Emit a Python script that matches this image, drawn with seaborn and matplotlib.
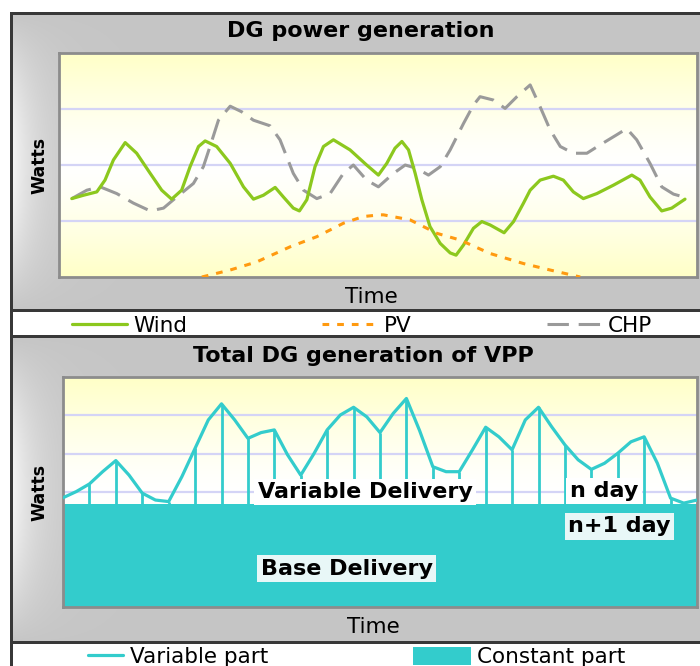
import numpy as np
import matplotlib
matplotlib.use("Agg")
import matplotlib.pyplot as plt
import seaborn as sns

sns.set_style("white")
plt.rcParams['font.family'] = ['DejaVu Sans']
plt.rcParams['text.color'] = 'black'
plt.rcParams['axes.labelcolor'] = 'black'

# ---- DG power generation (time in hours, power in chart units) ----
wind_t = [0, 0.46, 0.98, 1.30, 1.63, 2.09, 2.54, 3.07, 3.52, 3.91, 4.30, 4.63, 4.96, 5.22,
          5.67, 6.20, 6.72, 7.11, 7.50, 7.96, 8.28, 8.67, 8.91, 9.20, 9.52, 9.85, 10.24,
          10.89, 11.54, 12.0, 12.33, 12.65, 12.92, 13.18, 13.44, 13.70, 14.02, 14.42, 14.81,
          15.04, 15.33, 15.72, 16.05, 16.37, 16.92, 17.29, 17.68, 17.94, 18.33, 18.85, 19.24,
          19.63, 20.02, 20.55, 21.20, 21.92, 22.24, 22.63, 23.09, 23.48, 24.0]
wind_w = [1.40, 1.46, 1.52, 1.73, 2.09, 2.40, 2.21, 1.85, 1.55, 1.39, 1.55, 1.97, 2.33, 2.43,
          2.33, 2.03, 1.61, 1.39, 1.46, 1.60, 1.43, 1.23, 1.18, 1.38, 1.97, 2.33, 2.45,
          2.27, 2.00, 1.82, 2.03, 2.30, 2.42, 2.27, 1.85, 1.38, 0.90, 0.60, 0.43,
          0.39, 0.57, 0.87, 0.99, 0.93, 0.79, 0.99, 1.32, 1.55, 1.73, 1.80, 1.73,
          1.52, 1.40, 1.49, 1.64, 1.82, 1.73, 1.43, 1.18, 1.23, 1.39]

pv_t = [5.09, 6.20, 7.24, 8.55, 9.59, 10.63, 11.41, 12.07, 12.20, 13.24, 14.29, 15.20,
        16.37, 17.68, 18.72, 19.90]
pv_w = [0.0, 0.125, 0.27, 0.54, 0.72, 0.96, 1.08, 1.11, 1.11, 1.02, 0.78, 0.66,
        0.42, 0.24, 0.125, 0.0]

chp_t = [0, 0.59, 1.11, 1.76, 2.41, 3.07, 3.59, 3.98, 4.76, 5.15, 5.41, 5.74, 6.20, 6.65,
         7.11, 7.76, 8.15, 8.67, 9.07, 9.59, 10.11, 10.63, 11.02, 11.54, 12.0, 12.59, 13.05,
         13.50, 13.96, 14.42, 14.81, 15.33, 15.72, 15.98, 16.50, 16.96, 17.42, 17.94, 18.33,
         18.72, 19.12, 19.63, 20.16, 20.68, 21.33, 21.72, 22.11, 22.63, 23.09, 23.55, 23.94]
chp_w = [1.40, 1.55, 1.61, 1.49, 1.32, 1.18, 1.23, 1.38, 1.67, 1.97, 2.33, 2.80, 3.05, 2.95,
         2.80, 2.70, 2.45, 1.85, 1.55, 1.40, 1.49, 1.85, 2.00, 1.73, 1.61, 1.85, 2.00,
         1.94, 1.82, 1.97, 2.27, 2.74, 3.07, 3.22, 3.16, 3.01, 3.22, 3.43, 3.04,
         2.63, 2.33, 2.21, 2.21, 2.36, 2.54, 2.65, 2.45, 2.03, 1.61, 1.48, 1.43]

# ---- Total DG generation of VPP (half-hourly) ----
vpp_t = np.arange(0, 24.5, 0.5)
variable = [2.85, 3.01, 3.21, 3.53, 3.82, 3.44, 2.97, 2.79, 2.75, 3.40, 4.14, 4.88, 5.30,
            4.88, 4.40, 4.55, 4.62, 3.97, 3.44, 4.00, 4.62, 5.01, 5.21, 4.96, 4.55, 5.05,
            5.44, 4.60, 3.66, 3.53, 3.53, 4.10, 4.69, 4.44, 4.10, 4.88, 5.21, 4.70, 4.23,
            3.84, 3.59, 3.75, 4.01, 4.31, 4.44, 3.75, 2.84, 2.71, 2.79]
base_level = 2.69

GREEN, ORANGE, GREY, TEAL = '#8cc81e', '#ff9a10', '#9a9a9a', '#33cccc'

fig = plt.figure(figsize=(7, 6.66), dpi=100)

# grey panels, white legend strips and dark frame
H, W = 666, 700
bg = np.ones((H, W, 3))
yy, xx = np.mgrid[0:H, 0:W]
for y0, y1 in [(14, 310), (338, 642)]:
    fy = np.sin(np.pi * np.clip((yy - y0) / (y1 - y0), 0, 1))
    fx = np.exp(-np.clip(xx - 12, 0, None) / 28.0)
    g = 0.775 + (0.96 - 0.775) * fx * fy
    m = (yy >= y0) & (yy < y1) & (xx >= 12)
    bg[m] = g[m][:, None]
for r0, r1 in [(12, 15), (309, 312), (335, 338), (641, 644)]:
    bg[r0:r1, 10:] = 0.22
bg[12:, 10:13] = 0.22
bax = fig.add_axes([0, 0, 1, 1], zorder=-1)
bax.imshow(bg, aspect='auto', interpolation='nearest')
bax.axis('off')


def yellow_bg(ax, xlim, ylim):
    w = np.abs(np.linspace(-1, 1, 256)) ** 1.3
    img = np.ones((256, 1, 3))
    img[:, 0, 2] = 1 - 0.22 * w
    ax.imshow(img, extent=[*xlim, *ylim], aspect='auto', zorder=0)
    ax.set_xlim(*xlim)
    ax.set_ylim(*ylim)


def style_axes(ax, grid_at):
    ax.set_yticks(grid_at)
    ax.set_xticks([])
    ax.grid(axis='y', color='#d4d4f6', lw=1.6)
    ax.set_axisbelow(True)
    ax.tick_params(left=False, bottom=False, labelleft=False, labelbottom=False)
    for s in ax.spines.values():
        s.set_color('#8c8c8c')
        s.set_linewidth(2)


# ---- top chart ----
ax1 = fig.add_axes([59 / 700, 1 - 277 / 666, 638 / 700, 224 / 666])
yellow_bg(ax1, (-0.5, 24.47), (0, 4))
sns.lineplot(x=wind_t, y=wind_w, ax=ax1, color=GREEN, lw=2.3, label='Wind', zorder=3)
sns.lineplot(x=pv_t, y=pv_w, ax=ax1, color=ORANGE, lw=2.2, linestyle=(0, (2.2, 2.6)),
             label='PV', zorder=3)
sns.lineplot(x=chp_t, y=chp_w, ax=ax1, color=GREY, lw=2.2, linestyle=(0, (7, 3.2)),
             label='CHP', zorder=2)
h1, l1 = ax1.get_legend_handles_labels()
if ax1.get_legend():
    ax1.get_legend().remove()
ax1.set_xlim(-0.5, 24.47)
ax1.set_ylim(0, 4)
style_axes(ax1, [1, 2, 3])
ax1.set_title('DG power generation', fontsize=16, fontweight='bold', x=0.473, pad=11.5)
ax1.set_xlabel('Time', fontsize=15.5)
ax1.xaxis.set_label_coords(0.489, -0.043)
ax1.set_ylabel('Watts', fontsize=12.5, fontweight='bold')
ax1.yaxis.set_label_coords(-0.0165, 0.5)

# ---- bottom chart ----
ax2 = fig.add_axes([63 / 700, 1 - 607 / 666, 634 / 700, 230 / 666])
yellow_bg(ax2, (0, 24), (0, 6))
ax2.fill_between(vpp_t, 0, base_level, color=TEAL, lw=0, zorder=2, label='Constant part')
hours = vpp_t[2:-1:2]
ax2.vlines(hours, base_level, variable[2:-1:2], color=TEAL, lw=2, zorder=2)
sns.lineplot(x=vpp_t, y=variable, ax=ax2, color=TEAL, lw=2.3, label='Variable part', zorder=3)
h2, l2 = ax2.get_legend_handles_labels()
if ax2.get_legend():
    ax2.get_legend().remove()
ax2.set_xlim(0, 24)
ax2.set_ylim(0, 6)
style_axes(ax2, [1, 2, 3, 4, 5])
ax2.set_title('Total DG generation of VPP', fontsize=16, fontweight='bold', x=0.473, pad=10.8)
ax2.set_xlabel('Time', fontsize=15.5)
ax2.xaxis.set_label_coords(0.49, -0.043)
ax2.set_ylabel('Watts', fontsize=12.5, fontweight='bold')
ax2.yaxis.set_label_coords(-0.023, 0.5)

white_box = dict(boxstyle='square,pad=0.15', fc='white', ec='none')
tint_box = dict(boxstyle='square,pad=0.15', fc='#e8f7f7', ec='none')
lbl = dict(ha='center', va='center', fontsize=16, fontweight='bold', zorder=5)
ax2.text(11.43, 3.0, 'Variable Delivery', bbox=white_box, **lbl)
ax2.text(20.48, 3.03, 'n day', bbox=white_box, **lbl)
ax2.text(21.07, 2.1, 'n+1 day', bbox=tint_box, **lbl)
ax2.text(10.74, 1.0, 'Base Delivery', bbox=tint_box, **lbl)

# ---- legends in the white strips ----
fig.legend(h1, l1, ncol=3, mode='expand', loc='center',
           bbox_to_anchor=(72 / 700, 1 - 326 / 666 - 0.01, 580 / 700, 0.02),
           frameon=False, fontsize=15.5, handlelength=2.56, handletextpad=0.28,
           borderpad=0, borderaxespad=0)
var_h = h2[l2.index('Variable part')]
const_h = h2[l2.index('Constant part')]
fig.legend([var_h], ['Variable part'], loc='center left', bbox_to_anchor=(88 / 700, 1 - 657 / 666),
           frameon=False, fontsize=15.5, handlelength=1.63, handletextpad=0.33,
           borderpad=0, borderaxespad=0)
fig.legend([const_h], ['Constant part'], loc='center left', bbox_to_anchor=(413 / 700, 1 - 657 / 666),
           frameon=False, fontsize=15.5, handlelength=2.7, handleheight=0.9, handletextpad=0.28,
           borderpad=0, borderaxespad=0)

fig.savefig('out.png', dpi=100)
